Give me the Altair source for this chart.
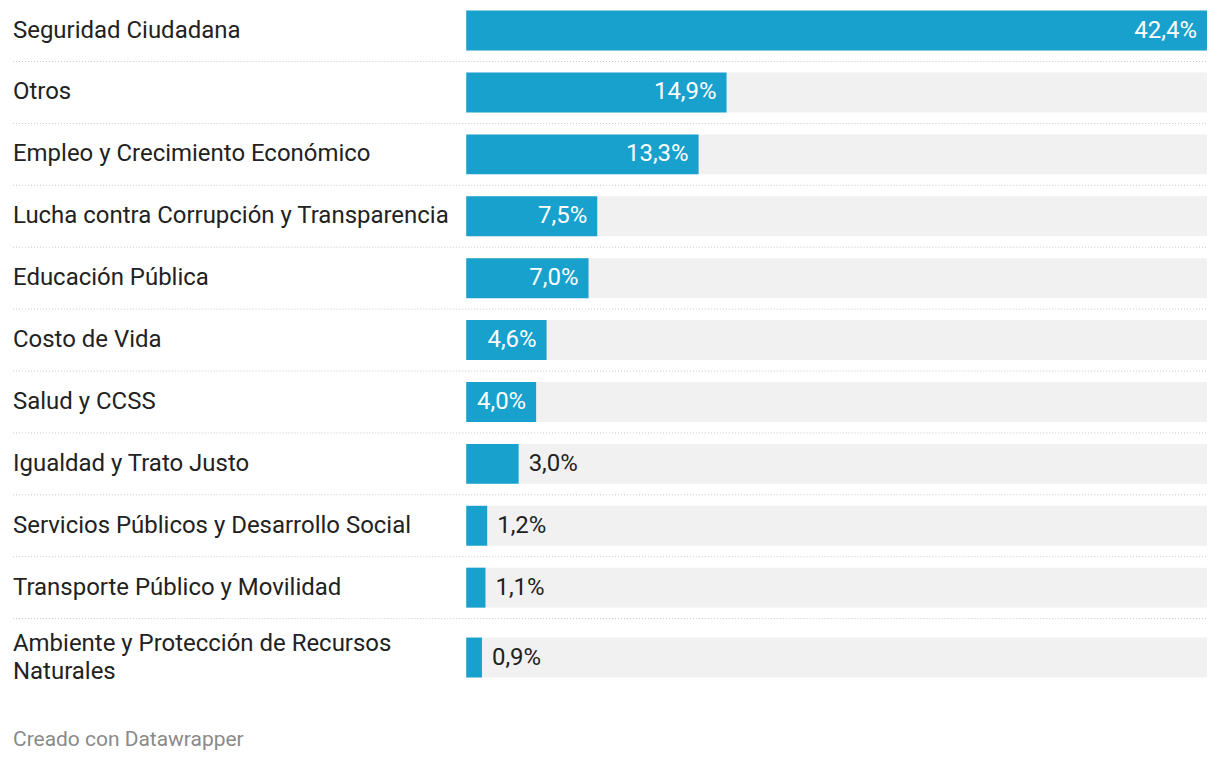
import altair as alt
import pandas as pd

categories = [
    "Seguridad Ciudadana",
    "Otros",
    "Empleo y Crecimiento Económico",
    "Lucha contra Corrupción y Transparencia",
    "Educación Pública",
    "Costo de Vida",
    "Salud y CCSS",
    "Igualdad y Trato Justo",
    "Servicios Públicos y Desarrollo Social",
    "Transporte Público y Movilidad",
    "Ambiente y Protección de Recursos\nNaturales",
]
values = [42.4, 14.9, 13.3, 7.5, 7.0, 4.6, 4.0, 3.0, 1.2, 1.1, 0.9]

df = pd.DataFrame({"cat": categories, "value": values})
df["label"] = [f"{v:.1f}".replace(".", ",") + "%" for v in values]
df["last"] = [i == len(categories) - 1 for i in range(len(categories))]

FONT = "Roboto"
FS = 24
BLUE = "#18a1cd"
vmax = max(values)
# the two-line last row is a little taller, so its content sits lower
SHIFT = {"expr": "datum.last ? 8 : 0"}
# two-line label: centre the whole block rather than the first line
NAME_SHIFT = {"expr": "datum.last ? -6 : 0"}

ysc = alt.Scale(domain=categories, range=[-9, 673], paddingInner=0, paddingOuter=0)
xsc = alt.Scale(domain=[0, vmax], range=[454, 1196], nice=False, zero=True)

base = alt.Chart(df)
Y = alt.Y("cat:N", sort=None, scale=ysc, axis=None)

bg = base.transform_joinaggregate(maxv="max(value)").transform_calculate(zero="0").mark_bar(
    size=40, color="#f1f1f1", yOffset=SHIFT
).encode(
    y=Y,
    x=alt.X("zero:Q", scale=xsc, axis=None),
    x2="maxv:Q",
)

bars = base.mark_bar(size=40, color=BLUE, yOffset=SHIFT).encode(
    y=Y,
    x=alt.X("value:Q", scale=xsc, axis=None),
)

seps = base.transform_filter("!datum.last").mark_rule(
    color="#c8c8c8", strokeDash=[1, 2], strokeWidth=1
).encode(
    y=alt.Y("cat:N", sort=None, scale=ysc, axis=None, bandPosition=1),
    x=alt.value(0),
    x2=alt.value(1196),
)

names = base.mark_text(
    align="left", baseline="middle", font=FONT, fontSize=FS, color="#222222",
    lineBreak="\n", lineHeight=28, yOffset=NAME_SHIFT,
).encode(
    y=Y,
    x=alt.value(0),
    text="cat:N",
)

inside = base.transform_filter("datum.value >= 3.5").mark_text(
    align="right", baseline="middle", font=FONT, fontSize=FS, color="white", dx=-10
).encode(
    y=Y,
    x=alt.X("value:Q", scale=xsc, axis=None),
    text="label:N",
)

outside = base.transform_filter("datum.value < 3.5").mark_text(
    align="left", baseline="middle", font=FONT, fontSize=FS, color="#222222", dx=10,
    yOffset=SHIFT,
).encode(
    y=Y,
    x=alt.X("value:Q", scale=xsc, axis=None),
    text="label:N",
)

footer = alt.Chart(pd.DataFrame({"t": ["Creado con Datawrapper"]})).mark_text(
    align="left", baseline="middle", font=FONT, fontSize=21, color="#8a8a8a"
).encode(
    x=alt.value(0),
    y=alt.value(733),
    text="t:N",
)

chart = alt.layer(bg, bars, seps, names, inside, outside, footer).properties(
    width=1196,
    height=740,
    padding={"left": 4, "top": 0, "right": 4, "bottom": 0},
).configure(background="white").configure_view(strokeWidth=0, stroke="transparent")

chart.save("out.html", embed_options={"renderer": "svg", "actions": False})
